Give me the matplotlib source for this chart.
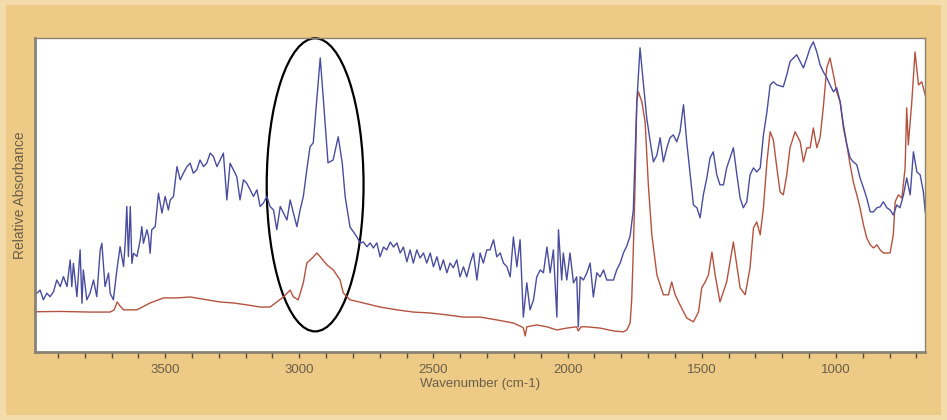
import matplotlib.pyplot as plt
from matplotlib.patches import Ellipse, Rectangle
from matplotlib.ticker import MultipleLocator

# blue spectrum (wavenumber, relative absorbance)
blue_wn = [3978, 3966, 3954, 3941, 3929, 3916, 3904, 3891, 3879, 3866, 3854, 3848, 3842, 3829, 3817, 3810,
           3805, 3792, 3780, 3767, 3755, 3742, 3736, 3724, 3711, 3705, 3693, 3680, 3668, 3655, 3649, 3643,
           3637, 3630, 3624, 3618, 3605, 3593, 3587, 3581, 3568, 3562, 3556, 3550, 3537, 3525, 3512, 3500,
           3488, 3481, 3469, 3456, 3444, 3432, 3419, 3407, 3395, 3382, 3370, 3357, 3345, 3332, 3320, 3307,
           3295, 3283, 3270, 3258, 3246, 3233, 3221, 3208, 3196, 3183, 3171, 3158, 3146, 3134, 3121, 3109,
           3096, 3084, 3071, 3059, 3046, 3034, 3022, 3009, 2997, 2985, 2972, 2960, 2948, 2934, 2922, 2911,
           2893, 2874, 2855, 2840, 2829, 2811, 2786, 2773, 2761, 2748, 2736, 2724, 2711, 2699, 2686, 2674,
           2661, 2649, 2636, 2624, 2612, 2599, 2587, 2575, 2562, 2550, 2537, 2525, 2512, 2500, 2487, 2475,
           2463, 2450, 2438, 2426, 2413, 2401, 2388, 2376, 2363, 2351, 2338, 2326, 2314, 2301, 2289, 2276,
           2264, 2251, 2239, 2226, 2214, 2202, 2189, 2177, 2165, 2152, 2140, 2127, 2115, 2102, 2090, 2077,
           2065, 2053, 2040, 2034, 2022, 2016, 2003, 1991, 1978, 1966, 1960, 1953, 1941, 1928, 1916, 1904,
           1891, 1879, 1866, 1854, 1842, 1829, 1817, 1804, 1792, 1779, 1767, 1755, 1742, 1730, 1717, 1705,
           1692, 1680, 1667, 1655, 1643, 1630, 1618, 1606, 1593, 1581, 1568, 1556, 1543, 1531, 1518, 1506,
           1494, 1481, 1469, 1457, 1444, 1432, 1419, 1407, 1382, 1369, 1357, 1345, 1332, 1320, 1307, 1295,
           1282, 1270, 1257, 1245, 1233, 1220, 1196, 1183, 1171, 1158, 1146, 1133, 1121, 1108, 1096, 1084,
           1071, 1059, 1047, 1034, 1022, 1009, 997, 984, 972, 959, 947, 935, 922, 910, 897, 885,
           872, 860, 847, 835, 823, 810, 798, 786, 773, 761, 748, 736, 723, 711, 698, 686,
           674, 667]
blue_abs = [0.187, 0.197, 0.166, 0.187, 0.176, 0.192, 0.229, 0.208, 0.240, 0.208, 0.293, 0.208, 0.282, 0.176, 0.325, 0.155,
            0.261, 0.166, 0.187, 0.229, 0.176, 0.325, 0.346, 0.208, 0.251, 0.187, 0.166, 0.261, 0.335, 0.272, 0.346, 0.463,
            0.304, 0.463, 0.282, 0.314, 0.304, 0.357, 0.399, 0.346, 0.389, 0.367, 0.314, 0.389, 0.399, 0.505, 0.442, 0.495,
            0.452, 0.484, 0.495, 0.590, 0.548, 0.569, 0.590, 0.601, 0.569, 0.580, 0.611, 0.590, 0.601, 0.633, 0.622, 0.590,
            0.611, 0.633, 0.484, 0.601, 0.580, 0.558, 0.484, 0.548, 0.537, 0.516, 0.495, 0.516, 0.463, 0.474, 0.495, 0.463,
            0.452, 0.389, 0.463, 0.442, 0.420, 0.484, 0.442, 0.399, 0.452, 0.495, 0.580, 0.653, 0.666, 0.812, 0.936, 0.812,
            0.602, 0.611, 0.685, 0.602, 0.494, 0.398, 0.367, 0.347, 0.350, 0.335, 0.347, 0.331, 0.347, 0.303, 0.334, 0.325,
            0.350, 0.334, 0.347, 0.315, 0.334, 0.287, 0.325, 0.283, 0.325, 0.299, 0.315, 0.283, 0.315, 0.271, 0.303, 0.261,
            0.293, 0.252, 0.283, 0.268, 0.293, 0.239, 0.271, 0.239, 0.283, 0.315, 0.229, 0.315, 0.283, 0.325, 0.325, 0.357,
            0.303, 0.315, 0.283, 0.271, 0.239, 0.366, 0.271, 0.357, 0.111, 0.220, 0.134, 0.166, 0.239, 0.261, 0.252, 0.334,
            0.252, 0.325, 0.111, 0.389, 0.229, 0.315, 0.229, 0.315, 0.220, 0.239, 0.080, 0.239, 0.229, 0.252, 0.283, 0.175,
            0.252, 0.239, 0.261, 0.229, 0.229, 0.229, 0.261, 0.283, 0.315, 0.338, 0.369, 0.452, 0.796, 0.968, 0.850, 0.745,
            0.669, 0.605, 0.627, 0.682, 0.605, 0.650, 0.682, 0.691, 0.669, 0.701, 0.787, 0.669, 0.564, 0.468, 0.459, 0.427,
            0.500, 0.554, 0.618, 0.637, 0.564, 0.532, 0.532, 0.586, 0.650, 0.564, 0.490, 0.459, 0.478, 0.564, 0.586, 0.573,
            0.586, 0.691, 0.764, 0.850, 0.860, 0.850, 0.844, 0.882, 0.924, 0.936, 0.946, 0.924, 0.904, 0.936, 0.968, 0.987,
            0.955, 0.914, 0.892, 0.873, 0.850, 0.828, 0.841, 0.796, 0.723, 0.659, 0.618, 0.605, 0.596, 0.554, 0.522, 0.490,
            0.446, 0.446, 0.459, 0.462, 0.478, 0.459, 0.452, 0.436, 0.468, 0.459, 0.500, 0.554, 0.500, 0.637, 0.573, 0.564,
            0.510, 0.446]

# red spectrum
red_wn = [3985, 3891, 3780, 3705, 3690, 3679, 3668, 3655, 3605, 3556, 3506, 3456, 3407, 3345, 3295, 3246,
          3196, 3146, 3109, 3084, 3059, 3034, 3022, 3004, 2985, 2972, 2947, 2935, 2922, 2897, 2873, 2848,
          2836, 2811, 2761, 2699, 2636, 2575, 2512, 2450, 2388, 2326, 2264, 2202, 2171, 2165, 2158, 2152,
          2115, 2077, 2040, 2003, 1966, 1960, 1950, 1928, 1879, 1829, 1792, 1779, 1767, 1761, 1755, 1748,
          1742, 1736, 1723, 1711, 1699, 1686, 1667, 1643, 1624, 1612, 1599, 1581, 1556, 1531, 1512, 1500,
          1487, 1475, 1462, 1450, 1432, 1407, 1382, 1357, 1338, 1320, 1307, 1295, 1282, 1270, 1257, 1245,
          1233, 1220, 1208, 1196, 1183, 1171, 1152, 1133, 1121, 1108, 1096, 1084, 1071, 1059, 1047, 1034,
          1022, 1009, 997, 984, 972, 959, 947, 935, 922, 910, 897, 885, 872, 860, 847, 835,
          823, 798, 786, 779, 767, 754, 742, 736, 730, 717, 705, 692, 680, 667]
red_abs = [0.128, 0.129, 0.127, 0.127, 0.134, 0.159, 0.146, 0.134, 0.134, 0.156, 0.172, 0.172, 0.175, 0.166, 0.159, 0.156,
           0.150, 0.143, 0.143, 0.159, 0.175, 0.197, 0.175, 0.166, 0.220, 0.283, 0.303, 0.315, 0.303, 0.277, 0.261, 0.229,
           0.188, 0.166, 0.156, 0.143, 0.134, 0.127, 0.124, 0.118, 0.111, 0.111, 0.102, 0.092, 0.080, 0.076, 0.051, 0.080,
           0.086, 0.080, 0.070, 0.076, 0.080, 0.067, 0.080, 0.080, 0.076, 0.067, 0.064, 0.070, 0.092, 0.166, 0.325, 0.548,
           0.796, 0.828, 0.796, 0.732, 0.532, 0.373, 0.245, 0.182, 0.182, 0.223, 0.182, 0.150, 0.108, 0.096, 0.127, 0.204,
           0.223, 0.245, 0.318, 0.245, 0.159, 0.223, 0.350, 0.204, 0.182, 0.268, 0.395, 0.414, 0.373, 0.459, 0.605, 0.701,
           0.675, 0.586, 0.510, 0.500, 0.564, 0.650, 0.701, 0.669, 0.605, 0.650, 0.650, 0.713, 0.650, 0.682, 0.777, 0.904,
           0.936, 0.882, 0.828, 0.796, 0.713, 0.659, 0.596, 0.541, 0.500, 0.459, 0.404, 0.363, 0.341, 0.331, 0.341, 0.325,
           0.315, 0.315, 0.373, 0.478, 0.500, 0.490, 0.586, 0.777, 0.659, 0.796, 0.955, 0.850, 0.860, 0.818]

tick_labels = [3500, 3000, 2500, 2000, 1500, 1000]

bg = '#EDCB86'
txt = '#6b5e48'

fig = plt.figure(figsize=(9.47, 4.2), dpi=100, facecolor='#F3DCA9')
fig.patches.append(Rectangle((0.006, 0.012), 0.988, 0.976, transform=fig.transFigure,
                             facecolor=bg, edgecolor='none', zorder=-10))
ax = fig.add_axes([0.037, 0.162, 0.940, 0.748])
ax.set_zorder(1)
ax.set_facecolor('white')

ax.plot(red_wn, red_abs, color='#B5523F', lw=1.0)
ax.plot(blue_wn, blue_abs, color='#4A4C9E', lw=1.0)

ax.add_patch(Ellipse((2941, 0.532), 361, 0.933, fill=False, edgecolor='black',
                     lw=1.6, clip_on=False))

ax.set_xlim(3985, 667)
ax.set_ylim(0, 1)
ax.xaxis.set_minor_locator(MultipleLocator(100))
ax.set_xticks(tick_labels)
ax.set_xticklabels([str(t) for t in tick_labels])
ax.set_yticks([])
ax.tick_params(axis='x', which='both', direction='out', length=4, width=1,
               color='#5a4f3c', labelsize=9.5, labelcolor=txt, pad=5)

for s in ['top', 'right']:
    ax.spines[s].set_color('#8a8272')
    ax.spines[s].set_linewidth(1.0)
for s in ['left', 'bottom']:
    ax.spines[s].set_color('#8a8272')
    ax.spines[s].set_linewidth(2.0)

ax.set_xlabel('Wavenumber (cm-1)', fontsize=9.5, color=txt, family='Liberation Sans', labelpad=1)
ax.set_ylabel('Relative Absorbance', fontsize=10, color=txt, family='Liberation Sans', labelpad=6)
for lbl in ax.get_xticklabels():
    lbl.set_family('Liberation Sans')

fig.savefig('out.png', dpi=100, facecolor=fig.get_facecolor())
